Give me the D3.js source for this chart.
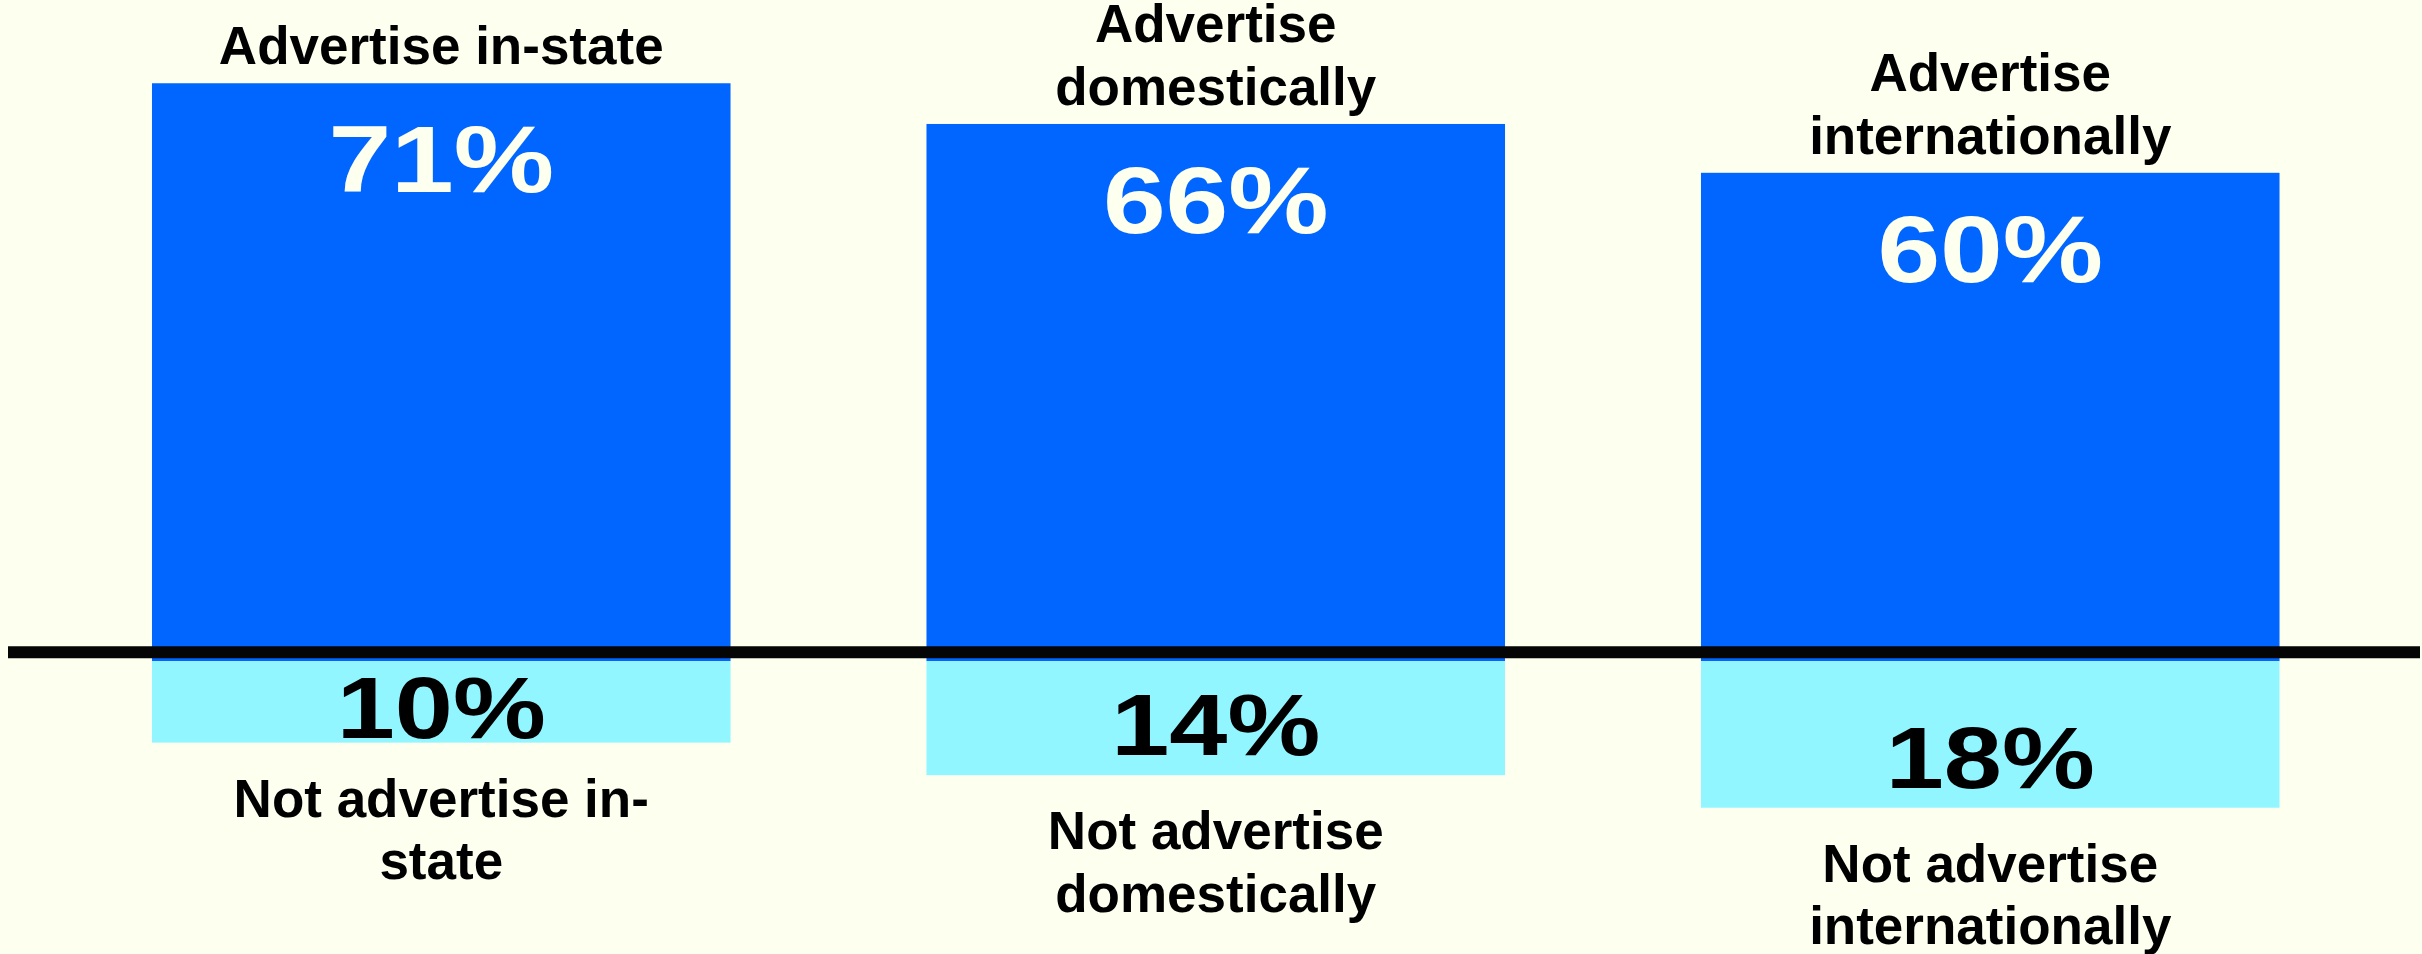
<!DOCTYPE html>
<html>
<head>
<meta charset="utf-8">
<script src="https://cdn.jsdelivr.net/npm/d3@7"></script>
<style>
  html, body { margin: 0; padding: 0; background: #FDFFEF; }
  svg { display: block; }
  text { font-family: "Liberation Sans", Arial, Helvetica, sans-serif; }
</style>
</head>
<body>
<svg id="chart" width="2422" height="954"></svg>
<script>
// Share of businesses that advertise / do not advertise, by reach
const categories = ["in-state", "domestically", "internationally"];
const advertiseValues = [71, 66, 60];
const notAdvertiseValues = [10, 14, 18];
const advertiseLabels = [
  ["Advertise in-state"],
  ["Advertise", "domestically"],
  ["Advertise", "internationally"]
];
const notAdvertiseLabels = [
  ["Not advertise in-", "state"],
  ["Not advertise", "domestically"],
  ["Not advertise", "internationally"]
];

const W = 2422, H = 954;
const darkBlue = "#0066FF";
const lightCyan = "#91F6FF";

const svg = d3.select("#chart");

const x = d3.scaleBand()
  .domain(categories)
  .range([54, 2377.5])
  .paddingInner(0.253)
  .paddingOuter(0.1265);

// Upward values are positive, downward ones negative around the zero line
const y = d3.scaleLinear().domain([-20, 80]).range([824, 10]);
const y0 = y(0);

const rows = categories.map((c, i) => ({
  cat: c,
  up: advertiseValues[i],
  down: notAdvertiseValues[i],
  upLabel: advertiseLabels[i],
  downLabel: notAdvertiseLabels[i]
}));

// Bars
svg.selectAll("rect.up").data(rows).join("rect")
  .attr("class", "up")
  .attr("x", d => x(d.cat))
  .attr("width", x.bandwidth())
  .attr("y", d => y(d.up))
  .attr("height", d => y0 - y(d.up))
  .attr("fill", darkBlue);

svg.selectAll("rect.down").data(rows).join("rect")
  .attr("class", "down")
  .attr("x", d => x(d.cat))
  .attr("width", x.bandwidth())
  .attr("y", y0)
  .attr("height", d => y(-d.down) - y0)
  .attr("fill", lightCyan);

// Zero line
svg.append("line")
  .attr("x1", 8).attr("x2", W - 2)
  .attr("y1", y0 - 9).attr("y2", y0 - 9)
  .attr("stroke", "#050505")
  .attr("stroke-width", 12);

const cx = d => x(d.cat) + x.bandwidth() / 2;
const lineGap = 62.5;

// Value labels
svg.selectAll("text.upval").data(rows).join("text")
  .attr("class", "upval")
  .attr("transform", d => `translate(${cx(d)},${y(d.up) + 109}) scale(1.2,1)`)
  .attr("text-anchor", "middle")
  .attr("font-weight", "bold")
  .attr("font-size", 94)
  .attr("fill", "#FDFFEF")
  .text(d => d.up + "%");

svg.selectAll("text.downval").data(rows).join("text")
  .attr("class", "downval")
  .attr("transform", d => `translate(${cx(d)},${Math.max(y(-d.down) - 20, y0 + 77)}) scale(1.2,1)`)
  .attr("text-anchor", "middle")
  .attr("font-weight", "bold")
  .attr("font-size", 87)
  .attr("fill", "#000")
  .text(d => d.down + "%");

// Category labels above the bars
svg.selectAll("text.upcat").data(rows).join("text")
  .attr("class", "upcat")
  .attr("text-anchor", "middle")
  .attr("font-weight", "bold")
  .attr("font-size", 53)
  .attr("fill", "#000")
  .each(function(d) {
    const n = d.upLabel.length;
    const last = y(d.up) - 19;
    d3.select(this).selectAll("tspan").data(d.upLabel).join("tspan")
      .attr("x", cx(d))
      .attr("y", (t, j) => last - (n - 1 - j) * lineGap)
      .text(t => t);
  });

// Category labels below the bars
svg.selectAll("text.downcat").data(rows).join("text")
  .attr("class", "downcat")
  .attr("text-anchor", "middle")
  .attr("font-weight", "bold")
  .attr("font-size", 53)
  .attr("fill", "#000")
  .each(function(d) {
    const first = y(-d.down) + 74;
    d3.select(this).selectAll("tspan").data(d.downLabel).join("tspan")
      .attr("x", cx(d))
      .attr("y", (t, j) => first + j * lineGap)
      .text(t => t);
  });
</script>
</body>
</html>
